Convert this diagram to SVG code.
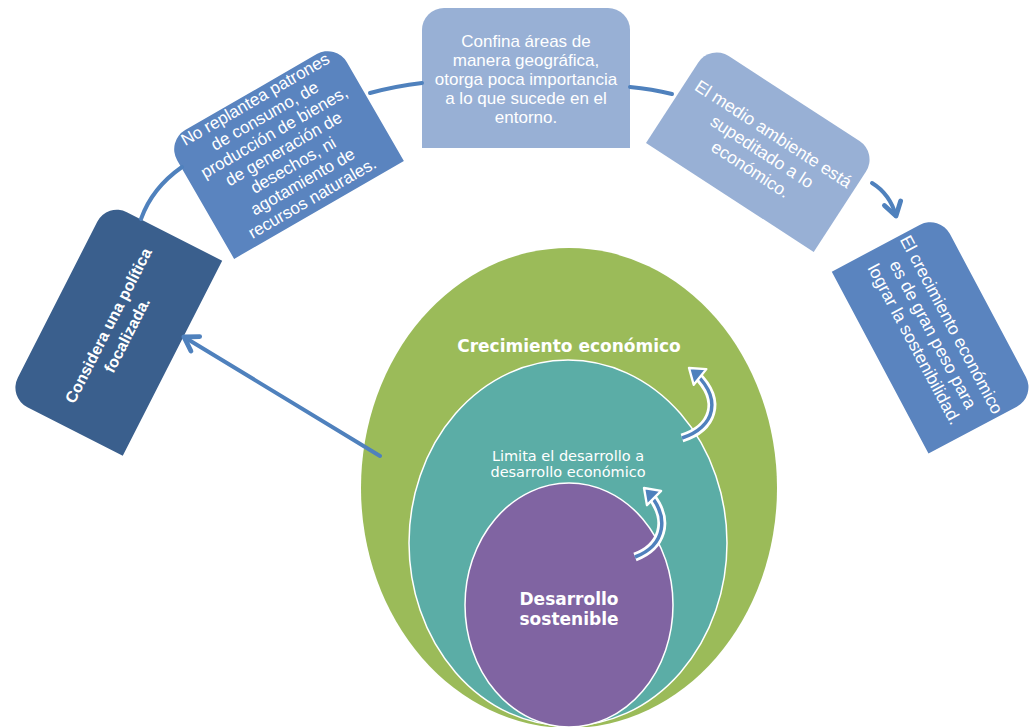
<svg xmlns="http://www.w3.org/2000/svg" width="1032" height="727" viewBox="0 0 1032 727">
<defs>
<style>
.bt{font-family:"Liberation Sans",Arial,sans-serif;fill:#ffffff;text-anchor:middle}
.bold{font-weight:bold}
.et{font-family:"DejaVu Sans",Verdana,sans-serif;fill:#ffffff;text-anchor:middle}
.con{fill:none;stroke:#4F81BD;stroke-width:4;stroke-linecap:round}
.cw{fill:none;stroke:#ffffff;stroke-width:9;stroke-linecap:butt}
.cb{fill:none;stroke:#4F81BD;stroke-width:3.5;stroke-linecap:butt}
</style>
<marker id="chev" markerUnits="userSpaceOnUse" markerWidth="24" markerHeight="24" viewBox="-14 -10 18 20" refX="0" refY="0" orient="auto">
<path d="M-11,-7 L0,0 L-11,7" fill="none" stroke="#4F81BD" stroke-width="4" stroke-linecap="round" stroke-linejoin="round"/>
</marker>
<marker id="tri" markerUnits="userSpaceOnUse" markerWidth="26" markerHeight="26" viewBox="-16 -11 20 22" refX="0" refY="0" orient="auto">
<path d="M-12,-8.5 L0,0 L-12,8.5 Z" fill="#4F81BD" stroke="#ffffff" stroke-width="2" stroke-linejoin="round"/>
</marker>
</defs>
<rect width="1032" height="727" fill="#ffffff"/>

<g id="crecimiento">
<ellipse cx="569" cy="488" rx="208" ry="240" fill="#9BBB59"/>
<text class="et bold" x="569" y="352" font-size="17">Crecimiento económico</text>
</g>
<g id="limita">
<ellipse cx="568" cy="543" rx="159" ry="183" fill="#5BADA6" stroke="#ffffff" stroke-width="1.5"/>
<text class="et" x="568" y="461" font-size="14.5">Limita el desarrollo a</text>
<text class="et" x="568" y="477" font-size="14.5">desarrollo económico</text>
</g>
<g id="desarrollo">
<ellipse cx="569" cy="605" rx="104" ry="122" fill="#8064A2" stroke="#ffffff" stroke-width="1.5"/>
<text class="et bold" x="569" y="605" font-size="17">Desarrollo</text>
<text class="et bold" x="569" y="625" font-size="17">sostenible</text>
</g>

<g id="box-politica" transform="translate(115,329) rotate(-63)">
<path d="M-109.5,64.5 V-42.5 A22,22 0 0 1 -87.5,-64.5 H87.5 A22,22 0 0 1 109.5,-42.5 V64.5 Z" fill="#3A5F8D"/>
<text class="bt bold" x="0" y="-2" font-size="16">Considera una política</text>
<text class="bt bold" x="0" y="19" font-size="16">focalizada.</text>
</g>

<g id="box-patrones" transform="translate(285,151) rotate(-30)">
<path d="M-98,68 V-46 A22,22 0 0 1 -76,-68 H76 A22,22 0 0 1 98,-46 V68 Z" fill="#5A84BF"/>
<text class="bt" font-size="17" x="0" y="-54">No replantea patrones</text>
<text class="bt" font-size="17" x="0" y="-35">de consumo, de</text>
<text class="bt" font-size="17" x="0" y="-16">producción de bienes,</text>
<text class="bt" font-size="17" x="0" y="3">de generación de</text>
<text class="bt" font-size="17" x="0" y="22">desechos, ni</text>
<text class="bt" font-size="17" x="0" y="41">agotamiento de</text>
<text class="bt" font-size="17" x="0" y="60">recursos naturales.</text>
</g>

<g id="box-confina">
<path d="M422,148 V30 A22,22 0 0 1 444,8 H608 A22,22 0 0 1 630,30 V148 Z" fill="#98B0D5"/>
<text class="bt" font-size="17" x="526" y="47">Confina áreas de</text>
<text class="bt" font-size="17" x="526" y="66">manera geográfica,</text>
<text class="bt" font-size="17" x="526" y="85">otorga poca importancia</text>
<text class="bt" font-size="17" x="526" y="104">a lo que sucede en el</text>
<text class="bt" font-size="17" x="526" y="123">entorno.</text>
</g>

<g id="box-medio" transform="translate(762,148) rotate(33)">
<path d="M-100,59 V-37 A22,22 0 0 1 -78,-59 H78 A22,22 0 0 1 100,-37 V59 Z" fill="#98B0D5"/>
<text class="bt" font-size="17.5" x="2" y="-12">El medio ambiente está</text>
<text class="bt" font-size="17.5" x="2" y="9">supeditado a lo</text>
<text class="bt" font-size="17.5" x="2" y="30">económico.</text>
</g>

<g id="box-crecimiento" transform="translate(934,334) rotate(62)">
<path d="M-103,61 V-39 A22,22 0 0 1 -81,-61 H81 A22,22 0 0 1 103,-39 V61 Z" fill="#5A84BF"/>
<text class="bt" font-size="17.5" x="0" y="-14">El crecimiento económico</text>
<text class="bt" font-size="17.5" x="0" y="7">es de gran peso para</text>
<text class="bt" font-size="17.5" x="0" y="28">lograr la sostenibilidad.</text>
</g>

<g id="connectors">
<path class="con" d="M141,219 Q152,188 182,167"/>
<path class="con" d="M370,93 Q396,86 422,83"/>
<path class="con" d="M630,87 Q652,89 672,94"/>
<path class="con" d="M872,183 Q890,194 896,216" marker-end="url(#chev)"/>
<path class="con" d="M380,456 L184,337" marker-end="url(#chev)"/>
<path class="cw" d="M682,438 C714,428 726,398 689,368" pathLength="100" stroke-dasharray="90 100"/>
<path class="cb" d="M682,438 C714,428 726,398 689,368" marker-end="url(#tri)"/>
<path class="cw" d="M635,557 C664,546 673,517 644,488" pathLength="100" stroke-dasharray="88 100"/>
<path class="cb" d="M635,557 C664,546 673,517 644,488" marker-end="url(#tri)"/>
</g>
</svg>
